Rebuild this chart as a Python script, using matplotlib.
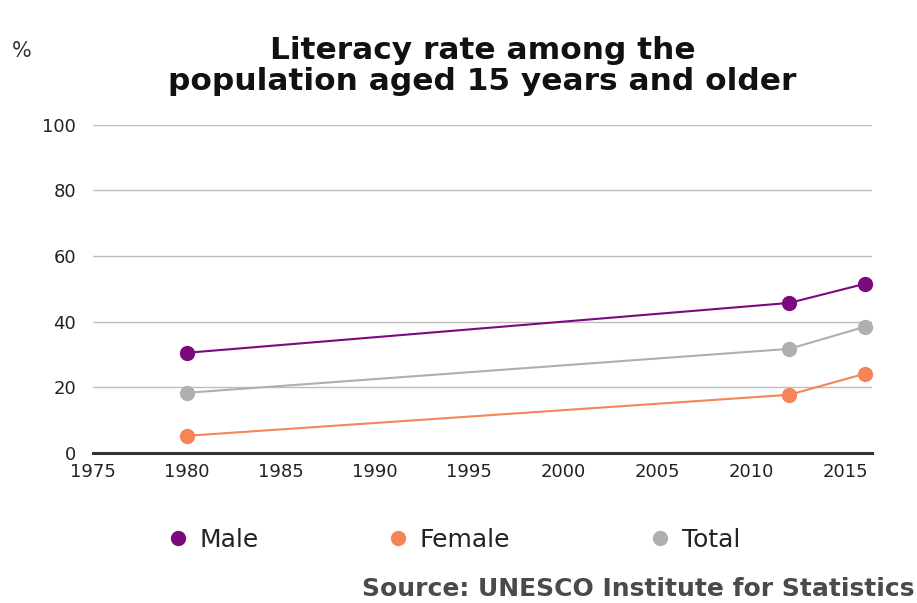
import matplotlib
matplotlib.use("Agg")
import matplotlib.pyplot as plt
from matplotlib.lines import Line2D

plt.rcParams['font.family'] = ['DejaVu Sans']

years = [1980, 2012, 2016]
male = [30.5, 45.7, 51.5]
female = [5.2, 17.7, 24.1]
total = [18.3, 31.7, 38.4]
series_names = ["Male", "Female", "Total"]
colors = ["#7A0A7E", "#F58456", "#AFAFAF"]
xticks = [1975, 1980, 1985, 1990, 1995, 2000, 2005, 2010, 2015]
yticks = [0, 20, 40, 60, 80, 100]

fig = plt.figure(figsize=(9.17, 6.03), dpi=100)
ax = fig.add_axes([0.101, 0.249, 0.850, 0.544])

for vals, c in zip([male, female, total], colors):
    ax.plot(years, vals, color=c, lw=1.5, marker='o', markersize=11,
            markeredgewidth=0, clip_on=False, zorder=3)

ax.set_xlim(1975.3, 2016.4)
ax.set_ylim(0, 100)
ax.set_xticks(xticks)
ax.set_yticks(yticks)
ax.set_xticklabels([str(x) for x in xticks])
for y in yticks[1:]:
    ax.axhline(y, color='#BDBDBD', lw=1.0, zorder=1)
for s in ['top', 'right', 'left']:
    ax.spines[s].set_visible(False)
ax.spines['bottom'].set_color('#333333')
ax.spines['bottom'].set_linewidth(2.2)
ax.tick_params(axis='both', length=0, labelsize=13, colors='#222222')
ax.tick_params(axis='x', pad=7)
ax.tick_params(axis='y', pad=12)

fig.text(0.526, 0.891, "Literacy rate among the\npopulation aged 15 years and older",
         ha='center', va='center', fontsize=22.5, fontweight='bold',
         color='#111111', linespacing=1.08)
fig.text(0.013, 0.915, "%", ha='left', va='center', fontsize=15, color='#333333')

marker_x = [178, 398, 660]
for name, c, mx in zip(series_names, colors, marker_x):
    h = Line2D([], [], color=c, marker='o', linestyle='none', markersize=11,
               markeredgewidth=0)
    fig.legend([h], [name], loc='center left',
               bbox_to_anchor=((mx - 12.5) / 917, 1 - 540 / 603),
               frameon=False, fontsize=18, borderpad=0, borderaxespad=0,
               handletextpad=0.38, handlelength=1.0, labelcolor='#222222')

fig.text(362 / 917, 1 - 589 / 603, "Source: UNESCO Institute for Statistics", ha='left',
         va='center', fontsize=18, fontweight='bold', color='#4A4A4A')

fig.savefig("out.png", dpi=100)
